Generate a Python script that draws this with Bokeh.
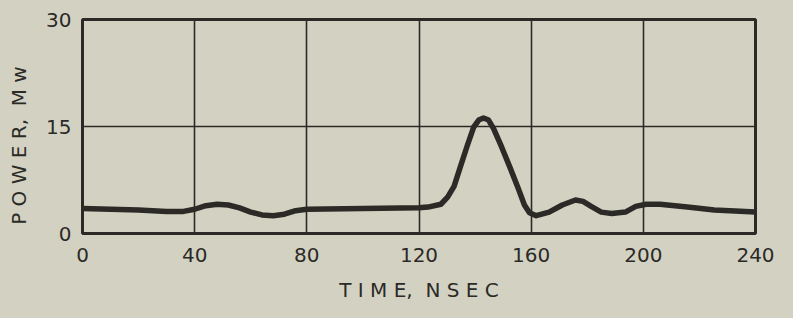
from bokeh.plotting import figure
from bokeh.models import Range1d, FixedTicker
from bokeh.embed import file_html
from bokeh.resources import INLINE

# Data
time_ns = [0, 10, 20, 30, 36, 40, 44, 48, 52, 56, 60, 64, 68, 72, 76, 80, 100, 120,
           123.2, 127.8, 130.2, 132.5, 134.8, 137.2, 139.5, 141.3, 143.0, 144.8, 146.6,
           149.5, 152.4, 155.3, 157.6, 159.4, 161.8, 166.4, 171.1, 175.8, 178.5, 181.4,
           185.0, 188.7, 193.6, 197.3, 201.0, 205.9, 215.7, 225.3, 240]
power_mw = [3.5, 3.4, 3.3, 3.1, 3.1, 3.4, 3.9, 4.1, 4.0, 3.6, 3.0, 2.6, 2.5, 2.7, 3.2, 3.4, 3.5, 3.6,
            3.7, 4.1, 5.1, 6.6, 9.4, 12.3, 14.9, 15.9, 16.2, 15.9, 14.7,
            12.1, 9.3, 6.4, 4.0, 2.9, 2.5, 3.0, 4.0, 4.7, 4.5, 3.8,
            3.0, 2.8, 3.0, 3.8, 4.1, 4.1, 3.7, 3.3, 3.0]

x_ticks = [0, 40, 80, 120, 160, 200, 240]
y_ticks = [0, 15, 30]
x_title = "T I M E,\u00a0\u00a0N S E C"
y_title = "P O W E R,\u00a0\u00a0M w" + "\u00a0" * 6

BG = "#d3d2c2"
INK = "#2b2a27"
FONT = "DejaVu Sans"

p = figure(width=793, height=318, output_backend="svg", toolbar_location=None,
           x_range=Range1d(0, 240), y_range=Range1d(0, 30),
           min_border_left=82, min_border_right=38, min_border_top=19, min_border_bottom=85)

p.background_fill_color = BG
p.border_fill_color = BG
p.outline_line_color = INK
p.outline_line_width = 3

for ax in (p.xaxis[0], p.yaxis[0]):
    ax.axis_line_color = None
    ax.major_tick_line_color = None
    ax.minor_tick_line_color = None
    ax.major_tick_in = 0
    ax.major_tick_out = 0
    ax.minor_tick_in = 0
    ax.minor_tick_out = 0
    ax.major_label_text_font = FONT
    ax.major_label_text_font_size = "20px"
    ax.major_label_text_color = INK
    ax.axis_label_text_font = FONT
    ax.axis_label_text_font_size = "20px"
    ax.axis_label_text_font_style = "normal"
    ax.axis_label_text_color = INK

p.xaxis.ticker = FixedTicker(ticks=x_ticks)
p.yaxis.ticker = FixedTicker(ticks=y_ticks)
p.xaxis.major_label_standoff = 14
p.yaxis.major_label_standoff = 11
p.xaxis.axis_label = x_title
p.xaxis.axis_label_standoff = 13
p.yaxis.axis_label = y_title
p.yaxis.axis_label_standoff = 12

p.xgrid.ticker = FixedTicker(ticks=x_ticks[1:-1])
p.ygrid.ticker = FixedTicker(ticks=[15])
for g in (p.xgrid[0], p.ygrid[0]):
    g.grid_line_color = INK
    g.grid_line_width = 1.6

p.line(time_ns, power_mw, line_color=INK, line_width=5.5, line_join="round", line_cap="round")

html = file_html(p, INLINE)
html = html.replace("<head>", "<head><style>html,body{background:%s;}</style>" % BG, 1)
open("out.html", "w").write(html)
